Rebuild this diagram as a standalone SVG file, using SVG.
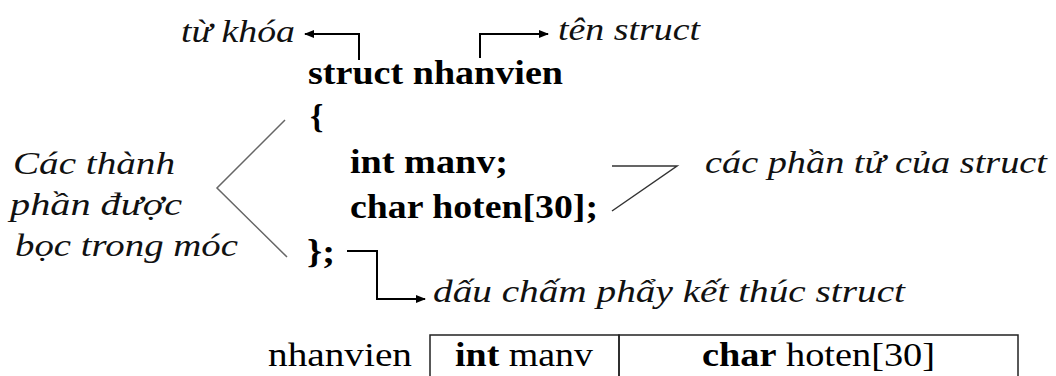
<svg xmlns="http://www.w3.org/2000/svg" width="1056" height="376" viewBox="0 0 1056 376">
<style>
.code{font-family:"Liberation Serif","Times New Roman",serif;font-weight:bold;font-size:34px;fill:#000}
.lbl{font-family:"Liberation Serif","Times New Roman",serif;font-style:italic;font-size:32px;fill:#111}
.reg{font-family:"Liberation Serif","Times New Roman",serif;font-size:33px;fill:#000}
.b{font-weight:bold}
.arrow{fill:none;stroke:#000;stroke-width:2;marker-end:url(#ah)}
.brace{fill:none;stroke:#666;stroke-width:1.5}
.brace2{fill:none;stroke:#333;stroke-width:1.5}
.cell{fill:none;stroke:#222;stroke-width:1.5}
</style>
<defs>
<marker id="ah" viewBox="0 0 10 8" refX="9" refY="4" markerWidth="10" markerHeight="8" markerUnits="userSpaceOnUse" orient="auto">
<path d="M0,0 L10,4 L0,8 Z" fill="#000"/>
</marker>
</defs>
<rect width="1056" height="376" fill="#fff"/>
<g id="connectors">
<path class="arrow" d="M359,60 V34 H305"/>
<path class="arrow" d="M480,58 V34 H548"/>
<path class="arrow" d="M347,251 H377 V299 H425"/>
<polyline class="brace" points="285,120 217,188 287,257"/>
<polyline class="brace2" points="612,166 677,166 612,211"/>
</g>
<g id="label-tukhoa"><text class="lbl" x="181" y="42" textLength="114" lengthAdjust="spacingAndGlyphs">từ khóa</text></g>
<g id="label-tenstruct"><text class="lbl" x="558" y="40" textLength="142" lengthAdjust="spacingAndGlyphs">tên struct</text></g>
<g id="code">
<text class="code" x="308" y="84" textLength="255" lengthAdjust="spacingAndGlyphs">struct nhanvien</text>
<text class="code" x="310" y="128">{</text>
<text class="code" x="350" y="173" textLength="158" lengthAdjust="spacingAndGlyphs">int manv;</text>
<text class="code" x="350" y="218" textLength="248" lengthAdjust="spacingAndGlyphs">char hoten[30];</text>
<text class="code" x="307" y="263" textLength="28" lengthAdjust="spacingAndGlyphs">};</text>
</g>
<g id="label-thanhphan">
<text class="lbl" x="13" y="174" textLength="162" lengthAdjust="spacingAndGlyphs">Các thành</text>
<text class="lbl" x="10" y="215" textLength="172" lengthAdjust="spacingAndGlyphs">phần được</text>
<text class="lbl" x="15" y="256" textLength="223" lengthAdjust="spacingAndGlyphs">bọc trong móc</text>
</g>
<g id="label-phantu"><text class="lbl" x="705" y="173" textLength="342" lengthAdjust="spacingAndGlyphs">các phần tử của struct</text></g>
<g id="label-daucham"><text class="lbl" x="433" y="302" textLength="472" lengthAdjust="spacingAndGlyphs">dấu chấm phẩy kết thúc struct</text></g>
<g id="table">
<text class="reg" x="268" y="366" textLength="144" lengthAdjust="spacingAndGlyphs">nhanvien</text>
<rect class="cell" x="430" y="335" width="189" height="60"/>
<rect class="cell" x="619" y="335" width="399" height="60"/>
<text class="reg" x="455" y="366" textLength="138" lengthAdjust="spacingAndGlyphs"><tspan class="b">int</tspan> manv</text>
<text class="reg" x="702" y="366" textLength="233" lengthAdjust="spacingAndGlyphs"><tspan class="b">char</tspan> hoten[30]</text>
</g>
</svg>
